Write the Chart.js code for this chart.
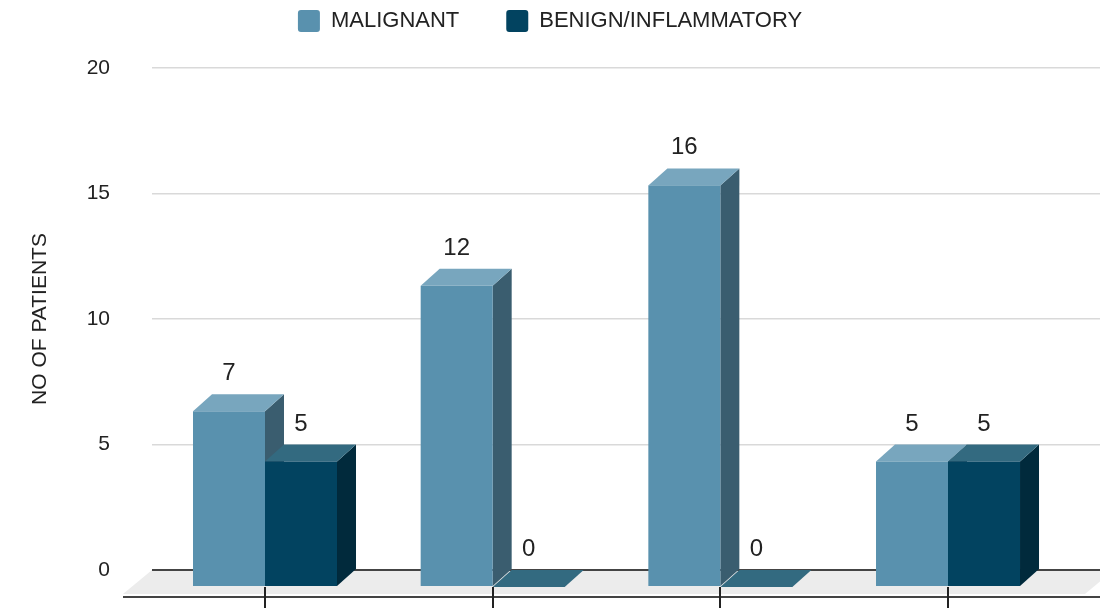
<!DOCTYPE html>
<html>
<head>
<meta charset="utf-8">
<script src="https://cdn.jsdelivr.net/npm/chart.js@4.4.1/dist/chart.umd.min.js"></script>
<style>
html,body{margin:0;padding:0;background:#fff;}
canvas{display:block;}
</style>
</head>
<body>
<canvas id="c" width="1100" height="608"></canvas>
<script>
// ---- data ----
const categories = ['Group 1', 'Group 2', 'Group 3', 'Group 4'];
const seriesNames = ['MALIGNANT', 'BENIGN/INFLAMMATORY'];
const malignant = [7, 12, 16, 5];
const benign = [5, 0, 0, 5];
const yTickValues = [0, 5, 10, 15, 20];
const yTitle = 'NO OF PATIENTS';

// ---- styles ----
const FONT = "'Liberation Sans', Arial, sans-serif";
const FRONT = ['#5991ae', '#024360'];
const TOP = ['#78a6be', '#336a80'];
const SIDE = ['#3a5d6f', '#012a3c'];
const DX = 19, DY = 17;          // bar depth offset
const FLOOR_DX = 29, FLOOR_DY = 24, AXIS_DY = 27;
const LEGEND_H = 68;
const LEGEND_PAD = 47;

const depth3d = {
  id: 'depth3d',
  beforeLayout(chart) {
    const lg = chart.legend;
    if (lg && !lg.__patched) {
      const fit = lg.fit;
      lg.fit = function () { fit.apply(this, arguments); this.height = LEGEND_H; };
      lg.__patched = true;
    }
  },
  afterLayout(chart) {
    if (chart.legend) chart.legend.top = 10 - LEGEND_PAD;
  },
  beforeDraw(chart) {
    const { ctx, chartArea: a, scales: { y } } = chart;
    const y0 = y.getPixelForValue(0);
    ctx.save();
    ctx.fillStyle = '#ececec';
    ctx.beginPath();
    ctx.moveTo(a.left, y0);
    ctx.lineTo(a.right + 14, y0);
    ctx.lineTo(a.right + 14 - FLOOR_DX, y0 + FLOOR_DY);
    ctx.lineTo(a.left - FLOOR_DX, y0 + FLOOR_DY);
    ctx.closePath();
    ctx.fill();
    ctx.strokeStyle = '#444';
    ctx.lineWidth = 2;
    ctx.beginPath();
    ctx.moveTo(a.left - FLOOR_DX, y0 + AXIS_DY);
    ctx.lineTo(chart.width, y0 + AXIS_DY);
    ctx.stroke();
    ctx.restore();
  },
  beforeDatasetsDraw(chart) {
    const { ctx, scales: { x, y } } = chart;
    const y0 = y.getPixelForValue(0);
    ctx.save();
    // category tick marks (front plane)
    ctx.strokeStyle = '#222';
    ctx.lineWidth = 2;
    categories.forEach((c, i) => {
      const px = Math.round(x.getPixelForValue(i) - DX);
      ctx.beginPath();
      ctx.moveTo(px, y0 + DY);
      ctx.lineTo(px, chart.height);
      ctx.stroke();
    });
    const metas = chart.data.datasets.map((d, i) => chart.getDatasetMeta(i));
    categories.forEach((c, i) => {
      metas.forEach((meta, di) => {
        const el = meta.data[i];
        if (!el) return;
        const p = el.getProps(['x', 'y', 'base', 'width'], true);
        const xl = p.x - p.width / 2, xr = p.x + p.width / 2;
        const fxl = xl - DX, fxr = xr - DX;
        const fyTop = p.y + DY, fyBase = p.base + DY;
        // side face
        ctx.fillStyle = SIDE[di];
        ctx.beginPath();
        ctx.moveTo(fxr, fyTop); ctx.lineTo(xr, p.y); ctx.lineTo(xr, p.base); ctx.lineTo(fxr, fyBase);
        ctx.closePath(); ctx.fill();
        // top face
        ctx.fillStyle = TOP[di];
        ctx.beginPath();
        ctx.moveTo(fxl, fyTop); ctx.lineTo(fxr, fyTop); ctx.lineTo(xr, p.y); ctx.lineTo(xl, p.y);
        ctx.closePath(); ctx.fill();
        // front face
        ctx.fillStyle = FRONT[di];
        ctx.fillRect(fxl, fyTop, fxr - fxl, fyBase - fyTop);
      });
    });
    // value labels
    ctx.fillStyle = '#222';
    ctx.font = "24px " + FONT;
    ctx.textAlign = 'center';
    ctx.textBaseline = 'alphabetic';
    metas.forEach((meta, di) => {
      const values = chart.data.datasets[di].values;
      meta.data.forEach((el, i) => {
        const p = el.getProps(['x', 'y'], true);
        ctx.fillText(String(values[i]), p.x - DX, p.y - 14);
      });
    });
    ctx.restore();
    return false;
  }
};

const seriesValues = [malignant, benign];
const datasets = seriesNames.map((name, di) => ({
  label: name,
  values: seriesValues[di],
  data: seriesValues[di].map((v, i) => ({ x: i, y: v })),
  backgroundColor: FRONT[di],
  borderWidth: 0,
  categoryPercentage: 0.6325,
  barPercentage: 1
}));

new Chart(document.getElementById('c'), {
  type: 'bar',
  data: { labels: categories, datasets },
  plugins: [depth3d],
  options: {
    responsive: false,
    animation: false,
    devicePixelRatio: 1,
    layout: { padding: { left: 0, right: 0, top: 0, bottom: 38 } },
    plugins: {
      tooltip: { enabled: false },
      legend: {
        position: 'top',
        align: 'center',
        labels: {
          boxWidth: 22,
          boxHeight: 22,
          padding: LEGEND_PAD,
          color: '#222',
          useBorderRadius: true,
          borderRadius: 3,
          font: { family: FONT, size: 22 }
        }
      }
    },
    scales: {
      x: {
        type: 'linear',
        display: false,
        offset: false,
        min: -0.5798,
        max: 3.5841,
        ticks: { stepSize: 1, includeBounds: false },
        grid: { display: false, offset: false }
      },
      y: {
        min: 0,
        max: 20,
        afterFit(scale) { scale.width = 152; scale.paddingTop = 0; scale.paddingBottom = 0; },
        afterBuildTicks(scale) { scale.ticks = yTickValues.map(v => ({ value: v })); },
        border: { display: false },
        grid: {
          drawTicks: false,
          color: (c) => (c.tick && c.tick.value === 0 ? '#444' : '#d9d9d9'),
          lineWidth: (c) => (c.tick && c.tick.value === 0 ? 2 : 1.5)
        },
        ticks: {
          padding: 42,
          color: '#222',
          font: { family: FONT, size: 21 }
        },
        title: {
          display: true,
          text: yTitle,
          color: '#222',
          padding: { top: 28, bottom: 0 },
          font: { family: FONT, size: 21 }
        }
      }
    }
  }
});
</script>
</body>
</html>
